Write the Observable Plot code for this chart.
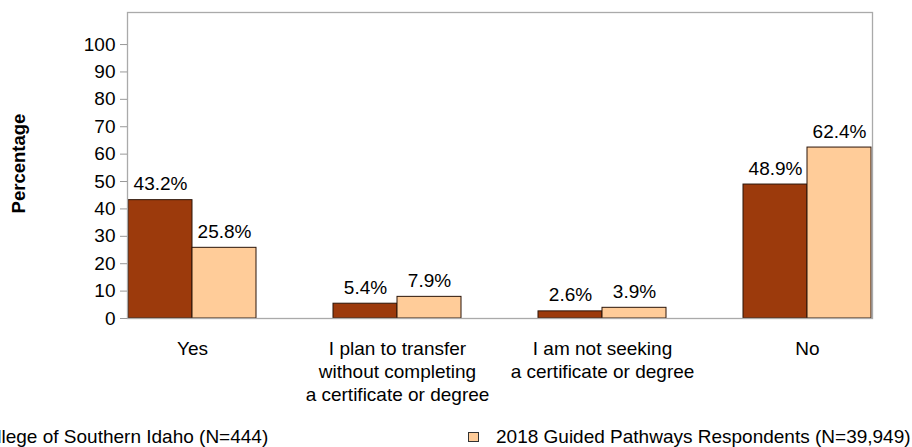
<!DOCTYPE html>
<html>
<head>
<meta charset="utf-8">
<script src="https://cdn.jsdelivr.net/npm/d3@7"></script>
<script src="https://cdn.jsdelivr.net/npm/@observablehq/plot@0.6"></script>
<style>
  html, body { margin: 0; padding: 0; background: #fff; overflow: hidden; }
  #wrap { position: relative; width: 912px; height: 447px; font-family: "Liberation Sans", Arial, sans-serif; }
  .leg { position: absolute; font-size: 19px; line-height: 19px; color: #000; white-space: nowrap; }
  .sw { position: absolute; width: 9px; height: 8px; border: 1px solid #333; }
</style>
</head>
<body>
<div id="wrap"></div>
<script>
const categories = [
  "Yes",
  "I plan to transfer\nwithout completing\na certificate or degree",
  "I am not seeking\na certificate or degree",
  "No"
];
const seriesNames = [
  "College of Southern Idaho (N=444)",
  "2018 Guided Pathways Respondents (N=39,949)"
];
const csiValues = [43.2, 5.4, 2.6, 48.9];
const gpValues = [25.8, 7.9, 3.9, 62.4];
const yTicks = [0, 10, 20, 30, 40, 50, 60, 70, 80, 90, 100];
const colors = ["#9C3A0C", "#FFCC99"];

const W = 912, H = 420, mL = 127, mR = 40, mT = 12, mB = 102;
const padInner = 0.3776;
const bw = (W - mL - mR) / (categories.length - padInner) * (1 - padInner);
const half = bw / 2;

const csi = categories.map((c, i) => ({category: c, value: csiValues[i]}));
const gp = categories.map((c, i) => ({category: c, value: gpValues[i]}));

const chart = Plot.plot({
  width: W, height: H,
  marginLeft: mL, marginRight: mR, marginTop: mT, marginBottom: mB,
  style: {fontFamily: "Liberation Sans, Arial, sans-serif", fontSize: "19px", color: "#000", background: "#fff"},
  x: {domain: categories, paddingInner: padInner, paddingOuter: 0},
  y: {domain: [0, 111.7]},
  marks: [
    Plot.barY(csi, {x: "category", y: "value", fill: colors[0], stroke: "#2b1408", strokeWidth: 1, insetRight: half, insetLeft: 0}),
    Plot.barY(gp, {x: "category", y: "value", fill: colors[1], stroke: "#2b1408", strokeWidth: 1, insetLeft: half, insetRight: 0}),
    Plot.text(csi, {x: "category", y: "value", text: d => d.value.toFixed(1) + "%", dx: -half / 2, dy: -10, lineAnchor: "bottom", fontSize: 19, fill: "#000"}),
    Plot.text(gp, {x: "category", y: "value", text: d => d.value.toFixed(1) + "%", dx: half / 2, dy: -10, lineAnchor: "bottom", fontSize: 19, fill: "#000"}),
    Plot.frame({stroke: "#aaa", strokeWidth: 1.3}),
    Plot.axisY({ticks: yTicks, tickSize: 7, tickPadding: 5, label: null, fontSize: 19, stroke: "#999"}),
    Plot.axisX({tickSize: 0, tickPadding: 20, label: null, fontSize: 19, lineHeight: 1.21}),
    Plot.text(["Percentage"], {frameAnchor: "left", textAnchor: "middle", lineAnchor: "middle", rotate: -90, dx: -108, dy: -2, fontWeight: "bold", fontSize: 18.5, fill: "#000"})
  ]
});

const wrap = document.getElementById("wrap");
wrap.appendChild(chart);

function legendItem(swLeft, textLeft, color, label) {
  const s = document.createElement("div");
  s.className = "sw";
  s.style.left = swLeft + "px";
  s.style.top = "432px";
  s.style.background = color;
  wrap.appendChild(s);
  const t = document.createElement("div");
  t.className = "leg";
  t.style.left = textLeft + "px";
  t.style.top = "426.5px";
  t.textContent = label;
  wrap.appendChild(t);
}
legendItem(-55, -27, colors[0], seriesNames[0]);
legendItem(468, 496, colors[1], seriesNames[1]);
</script>
</body>
</html>
